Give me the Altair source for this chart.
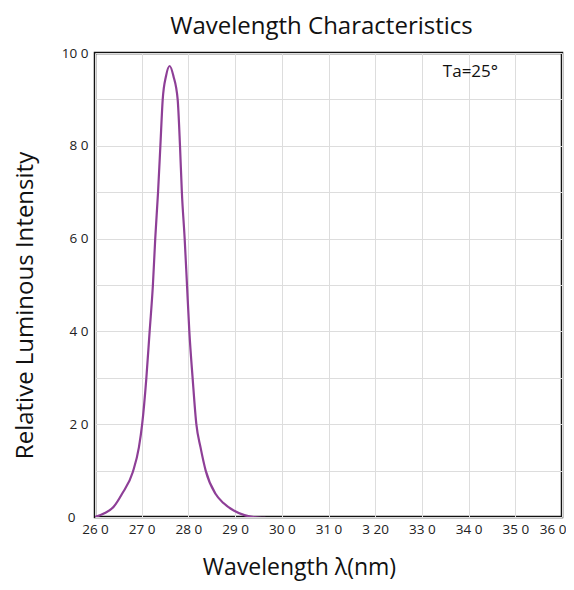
import altair as alt
import pandas as pd

wavelength = [260, 262, 264, 265.8, 268.1, 269.4, 270.1, 271.0, 271.7, 272.4, 272.9, 273.5, 274.0,
              274.5, 275.2, 276.0, 276.8, 277.7, 278.2, 278.6, 279.2, 279.7, 280.2, 280.9, 281.7,
              282.6, 283.7, 285.8, 287.5, 289.7, 292.0, 294.0, 296.5]
intensity = [0, 0.8, 2.2, 5, 9.7, 15, 20, 30, 40, 50, 60, 70, 80,
             90, 95, 97.2, 95, 90, 80, 70, 60, 50, 40, 30, 20,
             15, 10, 5, 3, 1.4, 0.4, 0, -0.2]

x_ticks = [260, 270, 280, 290, 300, 310, 320, 330, 340, 350, 360]
x_tick_labels = ["26 0", "27 0", "28 0", "29 0", "30 0", "31 0", "3 20", "33 0", "34 0", "35 0", "36 0"]
y_ticks = [0, 10, 20, 30, 40, 50, 60, 70, 80, 90, 100]
y_tick_labels = ["0", "", "2 0", "", "4 0", "", "6 0", "", "8 0", "", "10 0"]

note_text = ["Ta=25°"]
note_x = [340.4]
note_y = [95.8]

df = pd.DataFrame({"wl": wavelength, "val": intensity})
note = pd.DataFrame({"x": note_x, "y": note_y, "t": note_text})

xlab = "[" + ",".join("'%s'" % s for s in x_tick_labels) + "][(datum.value-260)/10]"
ylab = "[" + ",".join("'%s'" % s for s in y_tick_labels) + "][datum.value/10]"

FONT = "Open Sans"

x_enc = alt.X("wl:Q", scale=alt.Scale(domain=[260, 360], nice=False),
              axis=alt.Axis(values=x_ticks, labelExpr=xlab, title="Wavelength λ(nm)",
                            titleX=204, titleY=57, titleBaseline="alphabetic", titleAlign="center",
                            titleFontSize=23, titleFontWeight="normal", titleFont=FONT,
                            titleColor="#111",
                            labelFontSize=13.5, labelFont=FONT, labelPadding=5, labelColor="#222",
                            labelAlign=alt.condition("datum.value == 360", alt.value("right"), alt.value("center")),
                            labelOffset=alt.condition("datum.value == 360", alt.value(4), alt.value(0)),
                            ticks=False, domain=False, grid=True, gridColor="#dddddd",
                            labelFlush=False, labelOverlap=False))
y_enc = alt.Y("val:Q", scale=alt.Scale(domain=[0, 100], nice=False, clamp=False),
              axis=alt.Axis(values=y_ticks, labelExpr=ylab, title="Relative Luminous Intensity",
                            titleX=-70, titleY=252, titleAngle=-90, titleBaseline="middle",
                            titleAlign="center", titleColor="#111",
                            titleFontSize=24, titleFontWeight="normal", titleFont=FONT,
                            labelFontSize=13.5, labelFont=FONT, labelColor="#222",
                            labelPadding=alt.condition("datum.value == 0", alt.value(20), alt.value(7)),
                            ticks=False, domain=False, grid=True, gridColor="#dddddd",
                            labelFlush=False, labelOverlap=False))

line = alt.Chart(df).mark_line(color="#8e3f97", strokeWidth=2.2, interpolate="monotone",
                               clip=True).encode(x=x_enc, y=y_enc)

txt = alt.Chart(note).mark_text(fontSize=17, font=FONT, color="#111").encode(
    x=alt.X("x:Q"), y=alt.Y("y:Q"), text="t:N")

chart = alt.layer(line, txt).properties(
    width=467, height=464,
    title=alt.TitleParams("Wavelength Characteristics", fontSize=24, fontWeight="normal",
                          font=FONT, color="#111", offset=7, dx=-7),
    autosize=alt.AutoSizeParams(type="none"),
    padding={"left": 87, "top": 45, "right": 4, "bottom": 65},
).configure_view(stroke="#111", strokeWidth=2.5)

chart.save("out.html", embed_options={"renderer": "svg", "actions": False})
